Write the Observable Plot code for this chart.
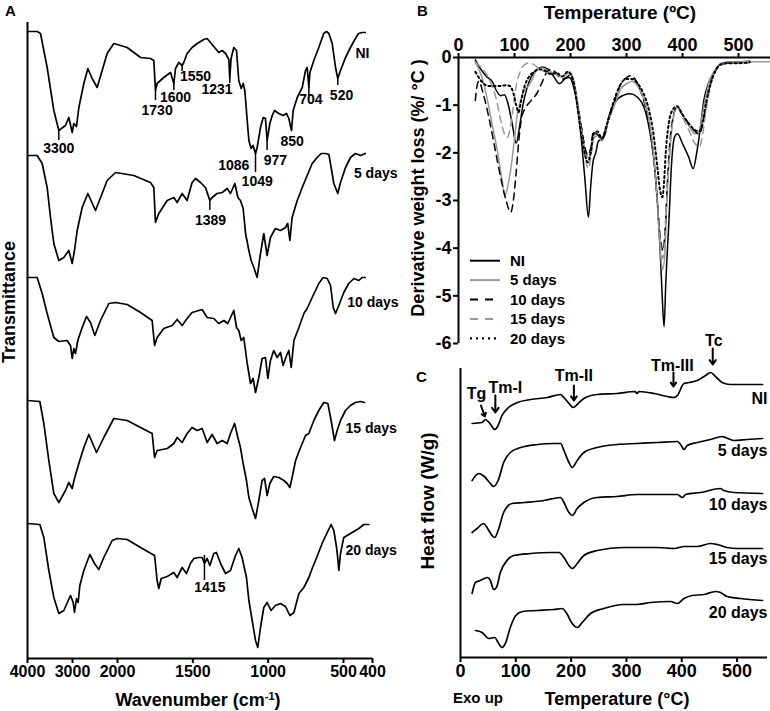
<!DOCTYPE html>
<html><head><meta charset="utf-8">
<script src="https://cdn.jsdelivr.net/npm/d3@7"></script>
<script src="https://cdn.jsdelivr.net/npm/@observablehq/plot@0.6"></script>
<style>
body{margin:0;background:#fff;}
#fig{position:relative;width:770px;height:711px;overflow:hidden;font-family:"Liberation Sans",Arial,sans-serif;font-weight:bold;color:#000;background:#fff;}
.abs{position:absolute;white-space:nowrap;line-height:1;}
.c{transform:translate(-50%,-50%);}
.r{transform:translate(-50%,-50%) rotate(-90deg);}
sup{font-size:11px;vertical-align:6px;line-height:0;}
</style></head><body><div id="fig">
<div class="abs" style="left:5px;top:3px;font-size:15px">A</div>
<div class="abs" style="left:417px;top:3px;font-size:15px">B</div>
<div class="abs" style="left:416px;top:369px;font-size:15px">C</div>
<div class="abs c" style="left:198px;top:700px;font-size:18px">Wavenumber (cm<sup>-1</sup>)</div>
<div class="abs r" style="left:9px;top:302px;font-size:18px">Transmittance</div>
<div class="abs c" style="left:620px;top:12px;font-size:19px">Temperature (ºC)</div>
<div class="abs r" style="left:418px;top:188px;font-size:18px">Derivative weight loss (%/ °C )</div>
<div class="abs r" style="left:427px;top:501px;font-size:19px">Heat flow (W/g)</div>
<div class="abs c" style="left:478px;top:697px;font-size:15px">Exo up</div>
<div class="abs c" style="left:617px;top:699px;font-size:18px">Temperature (°C)</div>
</div>
<script>
// ---------- Panel A : FTIR ----------
const aTicks = [4000, 3000, 2000, 1500, 1000, 500, 400];
const ftirNI = [[4000,627],[3785,627],[3711,625],[3563,591],[3415,548],[3304,528],[3156,533],[3082,541],[3007,526],[2970,535],[2911,532],[2859,551],[2748,575],[2659,590],[2563,580],[2452,571],[2341,588],[2230,605],[2082,615],[1936,611],[1847,601],[1781,600],[1759,598],[1748,568],[1737,575],[1693,581],[1648,586],[1626,575],[1615,590],[1593,596],[1571,593],[1560,596],[1538,605],[1505,611],[1471,615],[1427,619],[1405,620],[1383,616],[1350,610],[1328,606],[1305,608],[1283,605],[1261,599],[1255,580],[1246,600],[1228,611],[1210,608],[1195,578],[1179,570],[1166,575],[1155,568],[1139,538],[1128,518],[1113,510],[1100,513],[1084,505],[1073,511],[1051,531],[1033,541],[1018,540],[1007,518],[989,535],[973,543],[958,548],[929,545],[901,543],[878,545],[863,540],[845,528],[834,548],[807,561],[774,571],[752,588],[741,591],[730,571],[723,586],[697,598],[664,611],[631,625],[613,627],[597,625],[575,615],[553,591],[538,580],[520,588],[493,601],[476,611],[459,620],[448,625],[436,626],[425,626]];
const ftir5 = [[4000,503],[3785,503],[3674,495],[3563,471],[3489,441],[3415,415],[3304,398],[3193,401],[3082,408],[3007,395],[2956,408],[2896,428],[2785,451],[2659,465],[2489,448],[2230,478],[2044,486],[1892,483],[1781,476],[1759,471],[1748,436],[1726,445],[1670,458],[1626,461],[1604,456],[1571,465],[1538,458],[1505,476],[1482,480],[1449,476],[1416,471],[1387,458],[1372,461],[1339,465],[1305,466],[1272,470],[1250,465],[1221,475],[1201,461],[1184,458],[1166,450],[1150,425],[1128,408],[1113,398],[1095,391],[1073,381],[1055,401],[1029,425],[1007,403],[985,421],[952,430],[918,428],[885,431],[870,435],[856,418],[841,441],[807,458],[774,471],[741,483],[708,495],[675,501],[648,505],[619,505],[597,504],[582,491],[564,475],[538,465],[520,476],[493,491],[476,501],[459,505],[441,503],[425,505]];
const ftir10 = [[4000,381],[3785,381],[3674,365],[3563,345],[3415,321],[3304,317],[3119,318],[3044,313],[3007,300],[2970,310],[2933,305],[2882,318],[2785,331],[2689,342],[2600,336],[2504,323],[2378,338],[2193,355],[2044,356],[1936,354],[1847,346],[1770,338],[1754,313],[1737,321],[1693,330],[1637,333],[1604,339],[1571,333],[1538,340],[1505,346],[1461,348],[1438,349],[1405,341],[1361,340],[1328,335],[1294,338],[1268,335],[1250,341],[1228,348],[1210,331],[1195,328],[1179,318],[1162,321],[1139,295],[1117,275],[1100,280],[1084,266],[1062,281],[1040,300],[1018,301],[1002,280],[985,298],[963,308],[940,301],[918,306],[901,293],[878,303],[863,308],[847,291],[829,318],[796,331],[763,345],[741,350],[708,361],[664,375],[635,381],[608,380],[586,373],[568,351],[553,345],[531,353],[499,366],[482,375],[464,380],[447,378],[436,381],[425,381]];
const ftir15 = [[4000,258],[3726,257],[3637,235],[3526,198],[3415,165],[3304,156],[3156,168],[3082,176],[3007,170],[2956,180],[2859,195],[2748,211],[2637,224],[2467,206],[2304,221],[2082,240],[1936,238],[1847,231],[1770,225],[1754,201],[1737,208],[1670,210],[1626,215],[1604,221],[1571,216],[1538,225],[1505,231],[1471,228],[1438,230],[1405,216],[1372,224],[1339,215],[1305,218],[1272,215],[1250,225],[1223,235],[1201,221],[1184,211],[1166,195],[1144,178],[1128,161],[1106,150],[1084,140],[1062,158],[1040,178],[1024,180],[1007,163],[989,175],[963,182],[929,181],[896,178],[874,175],[856,171],[841,181],[818,198],[785,211],[752,223],[730,225],[697,238],[664,248],[631,256],[604,255],[582,238],[560,218],[542,228],[520,238],[493,248],[476,253],[459,256],[441,257],[427,256]];
const ftir20 = [[4000,135],[3726,134],[3637,121],[3526,88],[3415,61],[3304,45],[3193,48],[3044,63],[2985,56],[2956,46],[2911,60],[2874,56],[2837,73],[2748,88],[2615,104],[2511,95],[2415,89],[2304,101],[2119,118],[2007,120],[1936,119],[1847,111],[1754,103],[1737,78],[1726,70],[1710,80],[1670,82],[1626,86],[1604,81],[1571,91],[1542,85],[1516,95],[1493,100],[1461,101],[1438,101],[1423,95],[1405,100],[1387,93],[1361,105],[1343,106],[1316,95],[1283,85],[1250,88],[1217,103],[1195,110],[1173,101],[1144,81],[1128,58],[1106,38],[1084,18],[1069,11],[1051,31],[1029,51],[1007,56],[981,48],[952,53],[918,55],[885,52],[856,43],[829,46],[796,65],[763,71],[730,81],[708,90],[686,98],[642,115],[608,126],[582,134],[564,128],[546,111],[538,100],[531,88],[520,105],[499,121],[476,125],[447,130],[430,134],[413,134]];
const aPeakLabels = [
  {t:"3300",x:3304,y:510},{t:"1730",x:1737,y:548},{t:"1600",x:1615,y:561},{t:"1550",x:1482,y:582},
  {t:"1231",x:1339,y:569},{t:"1086",x:1228,y:493},{t:"1049",x:1073,y:477},{t:"977",x:952,y:498},
  {t:"850",x:841,y:517},{t:"704",x:717,y:559},{t:"520",x:513,y:563},{t:"1389",x:1383,y:438},{t:"1415",x:1387,y:71}
];
const aLeaders = [
  {x:3304,y1:528,y2:518},{x:1748,y1:568,y2:558},{x:1626,y1:575,y2:568},{x:1571,y1:593,y2:587},
  {x:1255,y1:580,y2:575},{x:1084,y1:505,y2:486},{x:1007,y1:518,y2:508},{x:730,y1:571,y2:562},
  {x:538,y1:580,y2:573},{x:1387,y1:458,y2:448},{x:1423,y1:103,y2:78}
];
const aSeriesLabels = [
  {t:"NI",x:459,y:605},{t:"5 days",x:464,y:485},{t:"10 days",x:487,y:356},{t:"15 days",x:493,y:230},{t:"20 days",x:493,y:108}
];

// ---------- Panel B : DTG ----------
const bTicksX = [0, 100, 200, 300, 400, 500];
const bTicksY = [0, -1, -2, -3, -4, -5, -6];
const dtgNI = [[30,-0.05],[40,-0.25],[50,-0.4],[60,-0.5],[68,-0.7],[75,-0.8],[82,-0.78],[88,-0.95],[96,-1.4],[103,-1.8],[109,-1.45],[115,-1.0],[122,-0.65],[130,-0.4],[140,-0.25],[150,-0.2],[160,-0.25],[170,-0.4],[180,-0.55],[190,-0.45],[198,-0.42],[205,-0.6],[212,-1.0],[220,-1.8],[226,-2.6],[232,-3.35],[236,-2.7],[240,-2.2],[245,-2.0],[250,-1.75],[256,-1.72],[262,-1.6],[268,-1.25],[280,-0.93],[295,-0.79],[307,-0.76],[319,-0.83],[331,-1.04],[340,-1.46],[349,-2.16],[355,-3.0],[360,-4.05],[364,-5.1],[367,-5.65],[370,-4.75],[376,-3.35],[380,-2.3],[386,-1.66],[391,-1.6],[400,-1.81],[411,-2.09],[419,-2.33],[425,-2.02],[432,-1.46],[438,-0.9],[447,-0.52],[456,-0.31],[468,-0.13],[480,-0.1],[504,-0.09],[520,-0.08]];
const dtg5 = [[30,-0.1],[40,-0.35],[50,-0.8],[60,-1.4],[70,-2.0],[78,-2.6],[83,-2.9],[88,-2.7],[95,-2.2],[100,-1.7],[105,-1.2],[112,-0.85],[118,-0.65],[125,-0.6],[132,-0.45],[140,-0.25],[150,-0.22],[160,-0.28],[170,-0.33],[180,-0.4],[190,-0.38],[198,-0.3],[205,-0.45],[212,-0.9],[220,-1.5],[226,-1.95],[232,-2.1],[237,-2.0],[241,-1.65],[248,-1.6],[256,-1.7],[265,-1.4],[275,-1.1],[290,-0.65],[300,-0.55],[310,-0.5],[320,-0.6],[330,-0.85],[340,-1.3],[348,-2.0],[354,-2.9],[359,-3.8],[364,-4.45],[368,-4.2],[372,-3.0],[377,-2.0],[383,-1.3],[390,-1.05],[400,-1.2],[412,-1.45],[422,-1.6],[428,-1.6],[434,-1.3],[440,-0.9],[448,-0.5],[456,-0.3],[466,-0.15],[480,-0.1],[510,-0.09],[557,-0.09]];
const dtg10 = [[30,-0.9],[33,-0.6],[36,-0.5],[45,-0.8],[55,-1.3],[65,-1.9],[75,-2.5],[85,-3.0],[93,-3.25],[98,-3.0],[103,-2.4],[108,-1.7],[113,-1.25],[120,-1.05],[130,-0.9],[140,-0.75],[150,-0.5],[158,-0.3],[165,-0.25],[175,-0.33],[185,-0.45],[195,-0.4],[200,-0.35],[205,-0.5],[212,-0.95],[220,-1.5],[226,-1.9],[231,-2.05],[236,-1.9],[241,-1.55],[248,-1.62],[256,-1.7],[265,-1.4],[275,-1.05],[290,-0.55],[300,-0.42],[307,-0.38],[315,-0.45],[325,-0.7],[335,-1.1],[343,-1.6],[350,-2.3],[356,-3.2],[361,-3.85],[365,-4.05],[369,-3.6],[373,-2.6],[378,-1.7],[384,-1.2],[390,-1.04],[400,-1.2],[412,-1.4],[422,-1.55],[430,-1.6],[436,-1.4],[442,-1.0],[450,-0.55],[458,-0.3],[468,-0.15],[480,-0.12],[500,-0.12],[520,-0.1]];
const dtg15 = [[30,-0.1],[40,-0.2],[50,-0.35],[60,-0.6],[68,-0.9],[75,-1.3],[82,-1.6],[87,-1.68],[92,-1.5],[97,-1.1],[103,-0.6],[110,-0.3],[118,-0.15],[125,-0.12],[135,-0.15],[145,-0.25],[155,-0.3],[165,-0.35],[175,-0.35],[185,-0.42],[195,-0.32],[202,-0.38],[208,-0.6],[214,-1.1],[220,-1.6],[226,-2.1],[232,-2.33],[236,-2.1],[241,-1.7],[248,-1.65],[256,-1.75],[265,-1.4],[275,-1.1],[290,-0.65],[300,-0.55],[310,-0.5],[320,-0.6],[330,-0.85],[340,-1.3],[348,-2.0],[354,-2.9],[359,-3.7],[364,-4.22],[368,-3.9],[372,-2.9],[377,-2.0],[383,-1.3],[390,-1.05],[400,-1.25],[412,-1.55],[422,-1.8],[430,-1.88],[436,-1.6],[442,-1.1],[450,-0.6],[458,-0.3],[468,-0.15],[480,-0.12],[500,-0.12],[520,-0.1]];
const dtg20 = [[30,-0.3],[38,-0.45],[45,-0.55],[55,-0.6],[65,-0.6],[75,-0.6],[85,-0.58],[92,-0.6],[98,-0.75],[103,-1.0],[107,-1.15],[112,-0.9],[118,-0.6],[125,-0.42],[135,-0.3],[145,-0.25],[155,-0.28],[165,-0.35],[175,-0.32],[185,-0.4],[195,-0.3],[200,-0.35],[206,-0.55],[212,-1.0],[219,-1.6],[226,-2.05],[231,-2.2],[236,-2.0],[241,-1.6],[248,-1.55],[256,-1.7],[265,-1.4],[275,-1.0],[290,-0.55],[300,-0.45],[310,-0.45],[320,-0.55],[330,-0.75],[340,-1.1],[348,-1.6],[355,-2.3],[360,-2.8],[364,-2.93],[367,-2.6],[370,-2.0],[374,-1.5],[380,-1.15],[390,-1.02],[400,-1.2],[412,-1.4],[422,-1.52],[430,-1.55],[436,-1.35],[442,-0.95],[450,-0.55],[458,-0.3],[468,-0.15],[480,-0.12],[500,-0.12],[520,-0.1]];
const bSeriesNames = ["NI", "5 days", "10 days", "15 days", "20 days"];
const bColors = ["#000", "#999", "#000", "#999", "#000"];
const bDashes = [null, null, "7,5", "7,5", "2,3"];

// ---------- Panel C : DSC ----------
const cTicks = [0, 100, 200, 300, 400, 500];
const dscNI = [[21,234],[39,235],[45,238],[50,236],[57,231],[62,228],[68,232],[75,242],[87,250],[103,255],[127,258],[157,260],[181,263],[187,260],[196,254],[204,250],[211,253],[223,259],[247,263],[283,264],[316,266],[319,264],[323,266],[350,264],[374,261],[386,260],[392,262],[404,274],[413,275],[428,277],[443,282],[452,285],[461,281],[473,275],[488,273],[512,273],[546,273]];
const dsc5 = [[21,177],[33,184],[43,181],[54,174],[60,171],[68,177],[78,195],[90,205],[109,210],[139,213],[169,214],[181,214],[187,207],[196,195],[202,190],[211,197],[223,205],[247,210],[283,213],[319,214],[356,215],[392,216],[399,212],[404,208],[410,212],[428,215],[452,218],[473,221],[479,220],[494,217],[518,218],[546,219]];
const dsc10 = [[21,125],[30,129],[42,134],[49,129],[57,122],[62,120],[68,127],[78,145],[93,154],[115,155],[151,157],[181,160],[187,155],[196,145],[202,142],[211,149],[223,155],[247,160],[283,161],[319,163],[356,163],[392,163],[401,160],[407,163],[434,165],[470,169],[476,167],[494,165],[546,164]];
const dsc15 = [[21,64],[27,75],[36,77],[43,79],[49,80],[54,77],[60,68],[65,70],[72,85],[84,97],[96,102],[127,104],[163,105],[178,105],[187,100],[196,92],[202,89],[211,94],[223,102],[247,107],[295,110],[319,110],[356,110],[386,109],[404,111],[428,111],[452,114],[464,113],[482,110],[500,109],[546,109]];
const dsc20 = [[27,27],[39,25],[51,19],[62,20],[68,15],[75,10],[81,14],[90,30],[100,42],[112,46],[139,47],[169,48],[184,49],[192,44],[202,34],[211,30],[220,35],[235,44],[259,49],[295,53],[319,53],[344,55],[380,56],[392,54],[404,59],[419,62],[440,63],[461,66],[470,65],[482,61],[506,59],[546,57]];
const cSeriesLabels = [{t:"NI",x:555,y:259},{t:"5 days",x:555,y:207},{t:"10 days",x:555,y:153},{t:"15 days",x:555,y:99},{t:"20 days",x:555,y:45}];
const cEventLabels = [{t:"Tg",x:29,y:264},{t:"Tm-I",x:81,y:270},{t:"Tm-II",x:205,y:282},{t:"Tm-III",x:383,y:292},{t:"Tc",x:458,y:317}];
const cEventArrows = [{x1:37,y1:252,x2:44,y2:241},{x1:63,y1:262,x2:63,y2:245},{x1:205,y1:272,x2:205,y2:257},{x1:385,y1:285,x2:385,y2:271},{x1:456,y1:309,x2:456,y2:293}];

// ---------- drawing ----------
const FONT = '"Liberation Sans", Arial, sans-serif';
const baseStyle = {background: "none", fontFamily: FONT, fontWeight: "bold", fontSize: "16px", overflow: "visible", color: "#000"};
const fig = document.getElementById("fig");
function place(svg, left, top) {
  svg.style.position = "absolute";
  svg.style.left = left + "px";
  svg.style.top = top + "px";
  svg.style.maxWidth = "none";
  fig.appendChild(svg);
}
const px = d => d[0], py = d => d[1];
const plain = d => String(d);

const plotA = Plot.plot({
  width: 390, height: 711,
  marginTop: 22, marginBottom: 53, marginLeft: 27, marginRight: 18,
  style: baseStyle,
  x: {type: "linear", domain: [4000, 2000, 500, 400], range: [27, 117, 343, 372]},
  y: {domain: [0, 636], axis: null},
  marks: [
    Plot.axisX({ticks: aTicks, tickFormat: plain, tickSize: 5, tickPadding: 2, strokeWidth: 2, fontSize: 16, label: null}),
    ...[ftirNI, ftir5, ftir10, ftir15, ftir20].map(s => Plot.line(s, {x: px, y: py, stroke: "#000", strokeWidth: 1.7})),
    Plot.ruleX(aLeaders, {x: "x", y1: "y1", y2: "y2", strokeWidth: 1.5}),
    Plot.text(aPeakLabels, {x: "x", y: "y", text: "t", fontSize: 14}),
    Plot.text(aSeriesLabels, {x: "x", y: "y", text: "t", textAnchor: "start", fontSize: 14}),
    Plot.ruleX([4000], {strokeWidth: 2}),
    Plot.ruleY([0], {strokeWidth: 2})
  ]
});
place(plotA, 0, 0);

const dtg = [dtgNI, dtg5, dtg10, dtg15, dtg20];
const plotB = Plot.plot({
  width: 380, height: 360,
  marginTop: 57, marginBottom: 17, marginLeft: 68, marginRight: 0,
  style: baseStyle,
  x: {domain: [0, 557]},
  y: {domain: [-6, 0]},
  marks: [
    Plot.axisX({anchor: "top", ticks: bTicksX, tickFormat: plain, tickSize: 5, tickPadding: 2, strokeWidth: 2, fontSize: 18, label: null}),
    Plot.axisY({ticks: bTicksY, tickFormat: plain, tickSize: 5, tickPadding: 2, strokeWidth: 2, fontSize: 18, label: null}),
    ...dtg.map((s, i) => Plot.line(s, {x: px, y: py, curve: "monotone-x", stroke: bColors[i], strokeWidth: i === 4 ? 2 : 1.5, strokeDasharray: bDashes[i] || undefined})),
    Plot.ruleX([0], {strokeWidth: 2}),
    Plot.ruleY([0], {strokeWidth: 2})
  ]
});
place(plotB, 390, 0);

const plotC = Plot.plot({
  width: 380, height: 381,
  marginTop: 38, marginBottom: 54, marginLeft: 70, marginRight: 3,
  style: baseStyle,
  x: {domain: [0, 555]},
  y: {domain: [0, 289], axis: null},
  marks: [
    Plot.axisX({ticks: cTicks, tickFormat: plain, tickSize: 5, tickPadding: 2, strokeWidth: 2, fontSize: 18, label: null}),
    ...[dscNI, dsc5, dsc10, dsc15, dsc20].map(s => Plot.line(s, {x: px, y: py, curve: "monotone-x", stroke: "#000", strokeWidth: 1.7})),
    Plot.text(cSeriesLabels, {x: "x", y: "y", text: "t", textAnchor: "end", fontSize: 16}),
    Plot.text(cEventLabels, {x: "x", y: "y", text: "t", fontSize: 16}),
    Plot.arrow(cEventArrows, {x1: "x1", y1: "y1", x2: "x2", y2: "y2", strokeWidth: 2, headLength: 6, headAngle: 70}),
    Plot.ruleX([0], {strokeWidth: 2}),
    Plot.ruleY([0], {strokeWidth: 2})
  ]
});
place(plotC, 390, 330);

// legend for panel B
const ns = "http://www.w3.org/2000/svg";
const leg = document.createElementNS(ns, "svg");
leg.setAttribute("width", 110); leg.setAttribute("height", 100);
leg.style.position = "absolute"; leg.style.left = "465px"; leg.style.top = "250px";
bSeriesNames.forEach((name, i) => {
  const yy = 10.7 + i * 19.4;
  const ln = document.createElementNS(ns, "line");
  ln.setAttribute("x1", 5); ln.setAttribute("x2", 35); ln.setAttribute("y1", yy); ln.setAttribute("y2", yy);
  ln.setAttribute("stroke", bColors[i]); ln.setAttribute("stroke-width", i === 4 ? 2.2 : 2);
  if (bDashes[i]) ln.setAttribute("stroke-dasharray", i === 4 ? "2,4" : "8,7");
  leg.appendChild(ln);
  const tx = document.createElementNS(ns, "text");
  tx.setAttribute("x", 45); tx.setAttribute("y", yy); tx.setAttribute("dy", "0.35em");
  tx.setAttribute("font-family", FONT); tx.setAttribute("font-weight", "bold"); tx.setAttribute("font-size", 15);
  tx.textContent = name;
  leg.appendChild(tx);
});
fig.appendChild(leg);
</script>
</body></html>
